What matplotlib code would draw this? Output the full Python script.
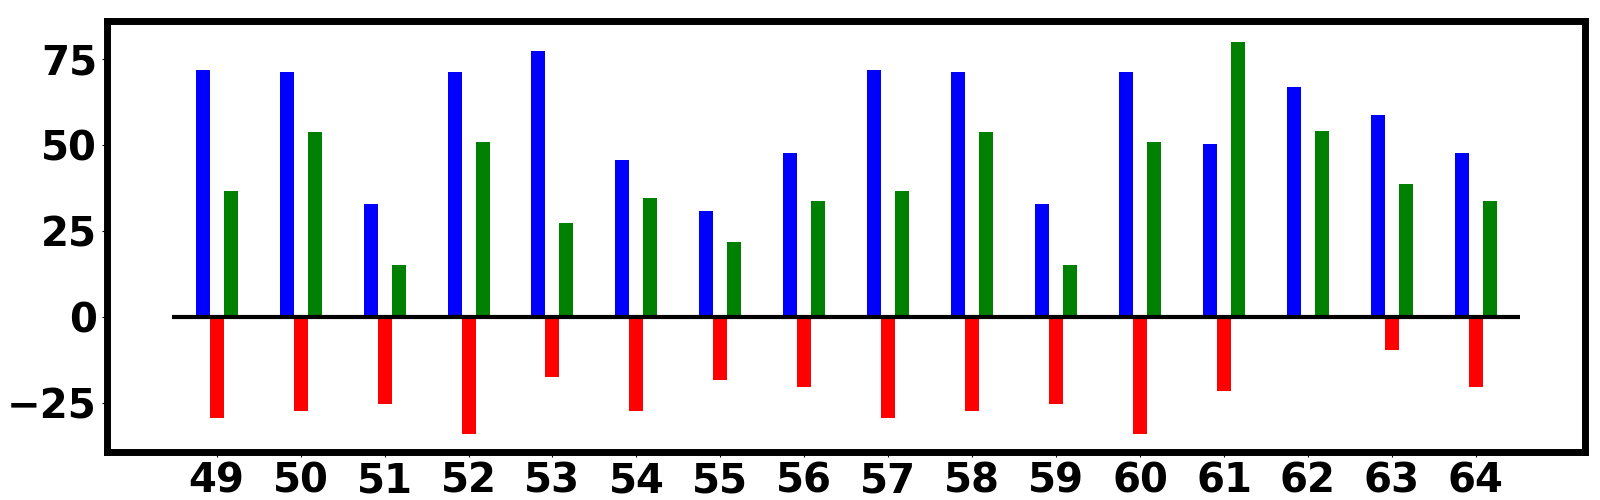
import matplotlib
matplotlib.use("Agg")
import matplotlib.pyplot as plt
import numpy as np

categories = [49, 50, 51, 52, 53, 54, 55, 56, 57, 58, 59, 60, 61, 62, 63, 64]
blue_vals = [71.8, 71.2, 32.8, 71.2, 77.3, 45.6, 30.8, 47.7, 71.8, 71.2, 32.8, 71.2, 50.3, 66.9, 58.7, 47.7]
red_vals = [-29.3, -27.2, -25.2, -33.9, -17.3, -27.2, -18.2, -20.3, -29.3, -27.2, -25.2, -33.9, -21.4, 0.0, -9.5, -20.3]
green_vals = [36.6, 53.8, 15.1, 50.9, 27.3, 34.6, 21.8, 33.7, 36.6, 53.8, 15.1, 50.9, 79.9, 54.1, 38.7, 33.7]
y_ticks = [-25, 0, 25, 50, 75]

fig = plt.figure(figsize=(16, 5), dpi=100)
ax = fig.add_axes([0.0667, 0.0966, 0.9239, 0.862])

x = np.array(categories, dtype=float)
w = 1 / 6
ax.bar(x - w, blue_vals, width=w, color="blue")
ax.bar(x, red_vals, width=w, color="red")
ax.bar(x + w, green_vals, width=w, color="green")
ax.hlines(0, 48.464, 64.525, color="black", linewidth=3)

ax.set_xlim(47.69, 65.30)
ax.set_ylim(-39.1, 86.2)
ax.set_xticks(categories)
ax.set_xticklabels([str(c) for c in categories])
ax.set_yticks(y_ticks)
for s in ax.spines.values():
    s.set_linewidth(5)
for lab in ax.get_xticklabels() + ax.get_yticklabels():
    lab.set_fontsize(29)
    lab.set_fontweight("bold")

fig.savefig("out.png", dpi=100)
